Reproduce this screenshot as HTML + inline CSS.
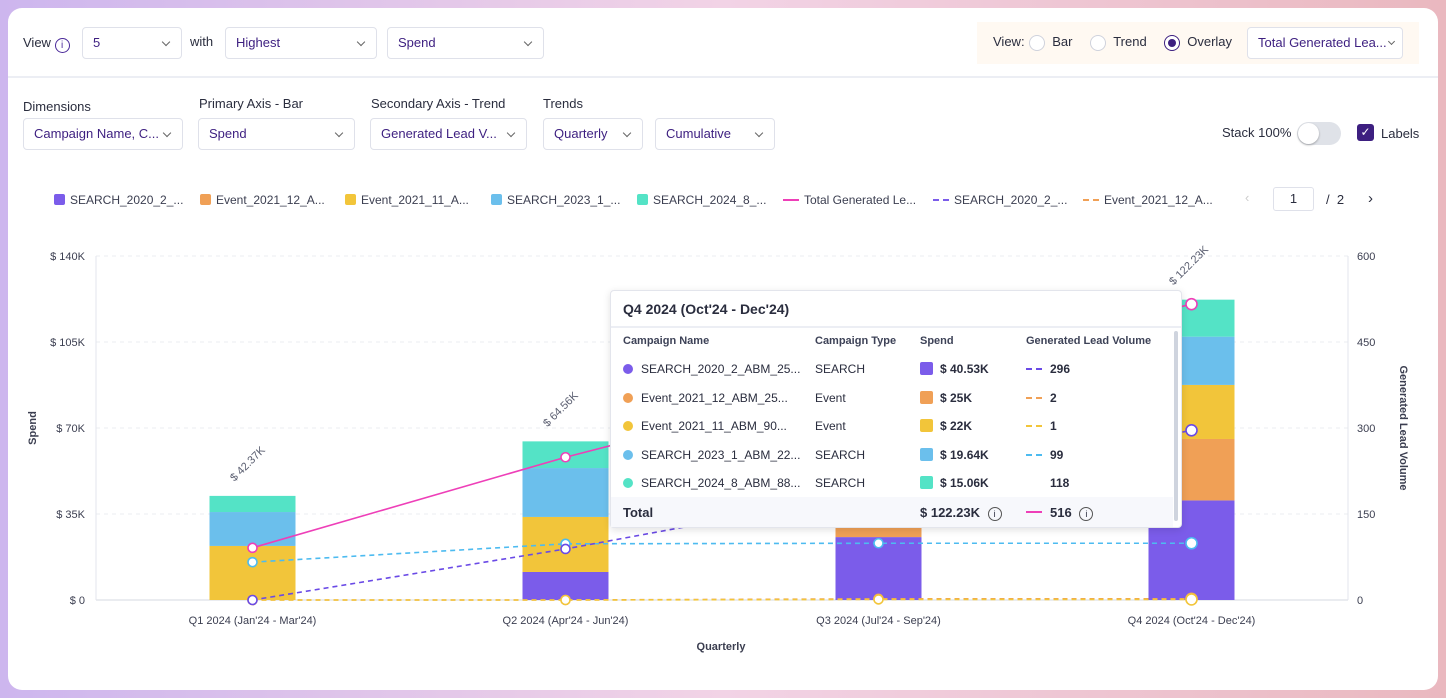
<!DOCTYPE html>
<html><head><meta charset="utf-8">
<style>
*{box-sizing:border-box;margin:0;padding:0}
body{width:1446px;height:698px;overflow:hidden;font-family:"Liberation Sans",sans-serif;background:linear-gradient(90deg,#cdb6ee,#f2d3e6 50%,#eab8bf);position:relative;color:#2a2d3e}
#card{position:absolute;left:8px;top:8px;width:1430px;height:682px;background:#fff;border-radius:14px;overflow:hidden}
.abs{position:absolute}
.lbl{font-size:13px;color:#2a2d3e;white-space:nowrap}
.dd{position:absolute;height:32px;border:1px solid #dfe1ea;border-radius:4px;background:#fff;font-size:13px;color:#3d1f80;padding:0 10px;line-height:30px;white-space:nowrap}
.dd .chev{position:absolute;right:12px;top:11px;width:6px;height:6px;border-right:1px solid #666;border-bottom:1px solid #666;transform:rotate(45deg)}
.radio{display:inline-block;width:16px;height:16px;border:1px solid #cfd2dc;border-radius:50%;vertical-align:middle;background:#fff;position:relative}
.leg{position:absolute;top:185px;font-size:12px;color:#3b3e50;white-space:nowrap}
.leg .sw{display:inline-block;width:11px;height:11px;border-radius:2px;vertical-align:-1px;margin-right:5px}
.leg .ln{display:inline-block;width:16px;height:0;vertical-align:3px;margin-right:5px}
#tip{position:absolute;left:602px;top:282px;width:572px;height:238px;background:#fff;border:1px solid #e3e5ec;border-radius:4px;box-shadow:0 2px 8px rgba(0,0,0,.12);font-size:12px}
#tip .c{position:absolute;white-space:nowrap}
</style></head><body>
<div id="card">
 <div class="abs lbl" style="left:15px;top:27px">View <span style="display:inline-block;width:15px;height:15px;border:1.2px solid #4b2a9a;border-radius:50%;color:#4b2a9a;font-size:10px;text-align:center;line-height:13px;vertical-align:-1px">i</span></div>
 <div class="dd" style="left:74px;top:19px;width:100px">5<span class="chev"></span></div>
 <div class="abs lbl" style="left:182px;top:26px">with</div>
 <div class="dd" style="left:217px;top:19px;width:152px">Highest<span class="chev"></span></div>
 <div class="dd" style="left:379px;top:19px;width:157px">Spend<span class="chev"></span></div>
 <div class="abs" style="left:969px;top:14px;width:442px;height:42px;background:#fff9f2"></div>
 <div class="abs lbl" style="left:985px;top:26px">View:</div>
 <div class="abs lbl" style="left:1021px;top:26px"><span class="radio"></span> &nbsp;Bar</div>
 <div class="abs lbl" style="left:1082px;top:26px"><span class="radio"></span> &nbsp;Trend</div>
 <div class="abs lbl" style="left:1156px;top:26px"><span class="radio" style="border-color:#3d1f80"><span style="position:absolute;left:3px;top:3px;width:8px;height:8px;border-radius:50%;background:#3d1f80"></span></span> &nbsp;Overlay</div>
 <div class="dd" style="left:1239px;top:19px;width:156px;padding-right:4px">Total Generated Lea...<span class="chev" style="right:8px;width:5px;height:5px"></span></div>
 <div class="abs" style="left:0;top:68px;width:1430px;height:2px;background:#eceef4"></div>

 <div class="abs lbl" style="left:15px;top:91px">Dimensions</div>
 <div class="dd" style="left:15px;top:110px;width:160px">Campaign Name, C...<span class="chev"></span></div>
 <div class="abs lbl" style="left:191px;top:88px">Primary Axis - Bar</div>
 <div class="dd" style="left:190px;top:110px;width:157px">Spend<span class="chev"></span></div>
 <div class="abs lbl" style="left:363px;top:88px">Secondary Axis - Trend</div>
 <div class="dd" style="left:362px;top:110px;width:157px">Generated Lead V...<span class="chev"></span></div>
 <div class="abs lbl" style="left:535px;top:88px">Trends</div>
 <div class="dd" style="left:535px;top:110px;width:100px">Quarterly<span class="chev"></span></div>
 <div class="dd" style="left:647px;top:110px;width:120px">Cumulative<span class="chev"></span></div>
 <div class="abs lbl" style="left:1214px;top:117px">Stack 100%</div>
 <div class="abs" style="left:1289px;top:114px;width:44px;height:23px;border-radius:12px;background:#dfe2e8"><div style="position:absolute;left:1px;top:1px;width:21px;height:21px;border-radius:50%;background:#fff;box-shadow:0 1px 2px rgba(0,0,0,.3)"></div></div>
 <div class="abs" style="left:1349px;top:116px;width:17px;height:17px;border-radius:3px;background:#3d1f80;color:#fff;font-size:12px;text-align:center;line-height:17px">✓</div>
 <div class="abs lbl" style="left:1373px;top:118px">Labels</div>

 <div class="leg" style="left:46px"><span class="sw" style="background:#7b5cea"></span>SEARCH_2020_2_...</div>
 <div class="leg" style="left:192px"><span class="sw" style="background:#f0a056"></span>Event_2021_12_A...</div>
 <div class="leg" style="left:337px"><span class="sw" style="background:#f2c53a"></span>Event_2021_11_A...</div>
 <div class="leg" style="left:483px"><span class="sw" style="background:#6bbfec"></span>SEARCH_2023_1_...</div>
 <div class="leg" style="left:629px"><span class="sw" style="background:#54e3c6"></span>SEARCH_2024_8_...</div>
 <div class="leg" style="left:775px"><span class="ln" style="border-top:2px solid #ee3fb8"></span>Total Generated Le...</div>
 <div class="leg" style="left:925px"><span class="ln" style="border-top:2px dashed #7b5cea"></span>SEARCH_2020_2_...</div>
 <div class="leg" style="left:1075px"><span class="ln" style="border-top:2px dashed #f0a056"></span>Event_2021_12_A...</div>
 <div class="abs lbl" style="left:1237px;top:182px;color:#ccc">‹</div>
 <div class="abs" style="left:1265px;top:179px;width:41px;height:24px;border:1px solid #dfe1ea;border-radius:3px;font-size:13px;text-align:center;line-height:22px">1</div>
 <div class="abs lbl" style="left:1318px;top:184px">/ &nbsp;2</div>
 <div class="abs lbl" style="left:1360px;top:182px;font-size:15px">›</div>

 <svg id="chart" class="abs" style="left:0;top:0" width="1430" height="682"></svg>

 <div id="tip">
  <div class="c" style="left:12px;top:10px;font-size:14px;font-weight:bold">Q4 2024 (Oct'24 - Dec'24)</div>
  <div class="c" style="left:0;top:35px;width:570px;height:2px;background:#eceef4"></div>
  <div class="c" style="left:12px;top:44px;font-size:11px;font-weight:bold;color:#3d4257">Campaign Name</div>
  <div class="c" style="left:204px;top:44px;font-size:11px;font-weight:bold;color:#3d4257">Campaign Type</div>
  <div class="c" style="left:309px;top:44px;font-size:11px;font-weight:bold;color:#3d4257">Spend</div>
  <div class="c" style="left:415px;top:44px;font-size:11px;font-weight:bold;color:#3d4257">Generated Lead Volume</div>
  <div id="tiprows"></div>
  <div class="c" style="left:0;top:206px;width:562px;height:30px;background:#f7f8fc"></div>
  <div class="c" style="left:12px;top:214px;font-size:13px;font-weight:bold">Total</div>
  <div class="c" style="left:309px;top:214px;font-size:13px;font-weight:bold">$ 122.23K <span style="display:inline-block;width:14px;height:14px;border:1px solid #555;border-radius:50%;font-size:9px;text-align:center;line-height:12px;font-weight:normal;margin-left:4px">i</span></div>
  <div class="c" style="left:415px;top:220px;width:16px;border-top:2px solid #ee3fb8"></div>
  <div class="c" style="left:439px;top:214px;font-size:13px;font-weight:bold">516 <span style="display:inline-block;width:14px;height:14px;border:1px solid #555;border-radius:50%;font-size:9px;text-align:center;line-height:12px;font-weight:normal;margin-left:4px">i</span></div>
  <div class="c" style="left:563px;top:40px;width:4px;height:190px;border-radius:2px;background:#cfd4de"></div>
 </div>
</div>
<script>
const categories=["Q1 2024 (Jan'24 - Mar'24)","Q2 2024 (Apr'24 - Jun'24)","Q3 2024 (Jul'24 - Sep'24)","Q4 2024 (Oct'24 - Dec'24)"];
const seriesNames=["SEARCH_2020_2","Event_2021_12","Event_2021_11","SEARCH_2023_1","SEARCH_2024_8"];
const spendSearch2020=[0,11.4,25.6,40.53];
const spendEvent202112=[0,0,4.2,25];
const spendEvent202111=[22,22.4,0,22];
const spendSearch2023=[13.8,19.9,0,19.64];
const spendSearch2024=[6.57,10.86,0,15.06];
const totalLabels=["$ 42.37K","$ 64.56K","","$ 122.23K"];
const leadTotal=[91,249,390,516];
const leadSearch2020=[0,89,190,296];
const leadSearch2023=[66,98,99,99];
const leadEvent202111=[0,0,1,1];
const leadEvent202112=[0,0,2,2];
const leftTicks=[0,35,70,105,140];
const leftTickLabels=["$ 0","$ 35K","$ 70K","$ 105K","$ 140K"];
const rightTicks=[0,150,300,450,600];

const colors=["#7b5cea","#f0a056","#f2c53a","#6bbfec","#54e3c6"];
const NS="http://www.w3.org/2000/svg";
const svg=document.getElementById('chart');
const X0=88,X1=1340,Y0=592,Y1=248;
const yL=v=>Y0-(v/140)*(Y0-Y1);
const yR=v=>Y0-(v/600)*(Y0-Y1);
const band=(X1-X0)/categories.length;
const xC=i=>X0+band*(i+0.5);
function mk(tag,attrs,parent){const e=document.createElementNS(NS,tag);for(const k in attrs)e.setAttribute(k,attrs[k]);(parent||svg).appendChild(e);return e;}
leftTicks.forEach((t,i)=>{
 const g=mk('line',{x1:X0,x2:X1,y1:yL(t),y2:yL(t),stroke:i?'#ebedf2':'#d6d9e2','stroke-dasharray':i?'4 4':''});
 
 
 const tx=mk('text',{x:X0-11,y:yL(t)+4,'text-anchor':'end','font-size':11,fill:'#3b3e50'});tx.textContent=leftTickLabels[i];
 
 
});
rightTicks.forEach(t=>{
 const tx=mk('text',{x:X1+9,y:yR(t)+4,'font-size':11,fill:'#3b3e50'});tx.textContent=t;
 
 
});
mk('line',{x1:X0,x2:X0,y1:Y1,y2:Y0,stroke:'#e3e5ec'});
mk('line',{x1:X1,x2:X1,y1:Y1,y2:Y0,stroke:'#e3e5ec'});
let t=mk('text',{x:28,y:420,'font-size':11,'font-weight':'bold',fill:'#3b3e50',transform:'rotate(-90 28 420)','text-anchor':'middle'});t.textContent='Spend';


t=mk('text',{x:1392,y:420,'font-size':11,'font-weight':'bold',fill:'#3b3e50',transform:'rotate(90 1392 420)','text-anchor':'middle'});t.textContent='Generated Lead Volume';


t=mk('text',{x:713,y:642,'font-size':11,'font-weight':'bold',fill:'#3b3e50','text-anchor':'middle'});t.textContent='Quarterly';


const stacks=[spendSearch2020,spendEvent202112,spendEvent202111,spendSearch2023,spendSearch2024];
const bw=86;
categories.forEach((c,i)=>{
 const tx=mk('text',{x:xC(i),y:616,'text-anchor':'middle','font-size':11,fill:'#3b3e50'});tx.textContent=c;
 
 
 let acc=0;
 stacks.forEach((s,k)=>{
  if(s[i]<=0)return;
  const r=mk('rect',{x:xC(i)-bw/2,y:yL(acc+s[i]),width:bw,height:yL(acc)-yL(acc+s[i]),fill:colors[k]});
  
  
  acc+=s[i];
 });
 if(totalLabels[i]){
  const ty=Math.max(yL(acc)-14,Y1+22);
  if(yL(acc)-14<Y1+22)mk('line',{x1:xC(i),x2:xC(i),y1:Y1-6,y2:yL(acc),stroke:'#cfd2da'});
  const l=mk('text',{x:xC(i)-18,y:ty,'font-size':11,fill:'#5a5e70',transform:`rotate(-45 ${xC(i)-18} ${ty})`});l.textContent=totalLabels[i];
  
  
 }
});
function line(vals,color,dash,name){
 const p=mk('polyline',{points:vals.map((v,i)=>xC(i)+','+yR(v)).join(' '),fill:'none',stroke:color,'stroke-width':1.6,'stroke-dasharray':dash});
 
 
 vals.forEach((v,i)=>{const c=mk('circle',{cx:xC(i),cy:yR(v),r:i==3?5.5:4.5,fill:'#fff',stroke:color,'stroke-width':1.6});
  
  });
}
line(leadEvent202112,'#f0a056','5 4','trend-event-2021-12');
line(leadEvent202111,'#f2c53a','5 4','trend-event-2021-11');
line(leadSearch2023,'#4dbbf0','5 4','trend-search-2023');
line(leadSearch2020,'#6a4ae6','5 4','trend-search-2020');
line(leadTotal,'#ee3fb8','','trend-total-leads');

const rows=[["SEARCH_2020_2_ABM_25...","SEARCH","$ 40.53K","296",colors[0],'#6a4ae6'],["Event_2021_12_ABM_25...","Event","$ 25K","2",colors[1],colors[1]],["Event_2021_11_ABM_90...","Event","$ 22K","1",colors[2],colors[2]],["SEARCH_2023_1_ABM_22...","SEARCH","$ 19.64K","99",colors[3],'#4dbbf0'],["SEARCH_2024_8_ABM_88...","SEARCH","$ 15.06K","118",colors[4],null]];
const tr=document.getElementById('tiprows');
rows.forEach((r,i)=>{
 const y=71+i*28.5;
 let h=`<div class="c" style="left:12px;top:${y+2}px;width:10px;height:10px;border-radius:50%;background:${r[4]}"></div>`+
 `<div class="c" style="left:30px;top:${y}px">${r[0]}</div><div class="c" style="left:204px;top:${y}px">${r[1]}</div>`+
 `<div class="c" style="left:309px;top:${y}px;width:13px;height:13px;border-radius:2px;background:${r[4]}"></div>`+
 `<div class="c" style="left:329px;top:${y}px;font-weight:bold">${r[2]}</div>`+
 (r[5]?`<div class="c" style="left:415px;top:${y+6}px;width:16px;border-top:2px dashed ${r[5]}"></div>`:'')+
 `<div class="c" style="left:439px;top:${y}px;font-weight:bold">${r[3]}</div>`;
 const d=document.createElement('div');d.innerHTML=h;
 
 
 tr.appendChild(d);
});
</script>
</body></html>
